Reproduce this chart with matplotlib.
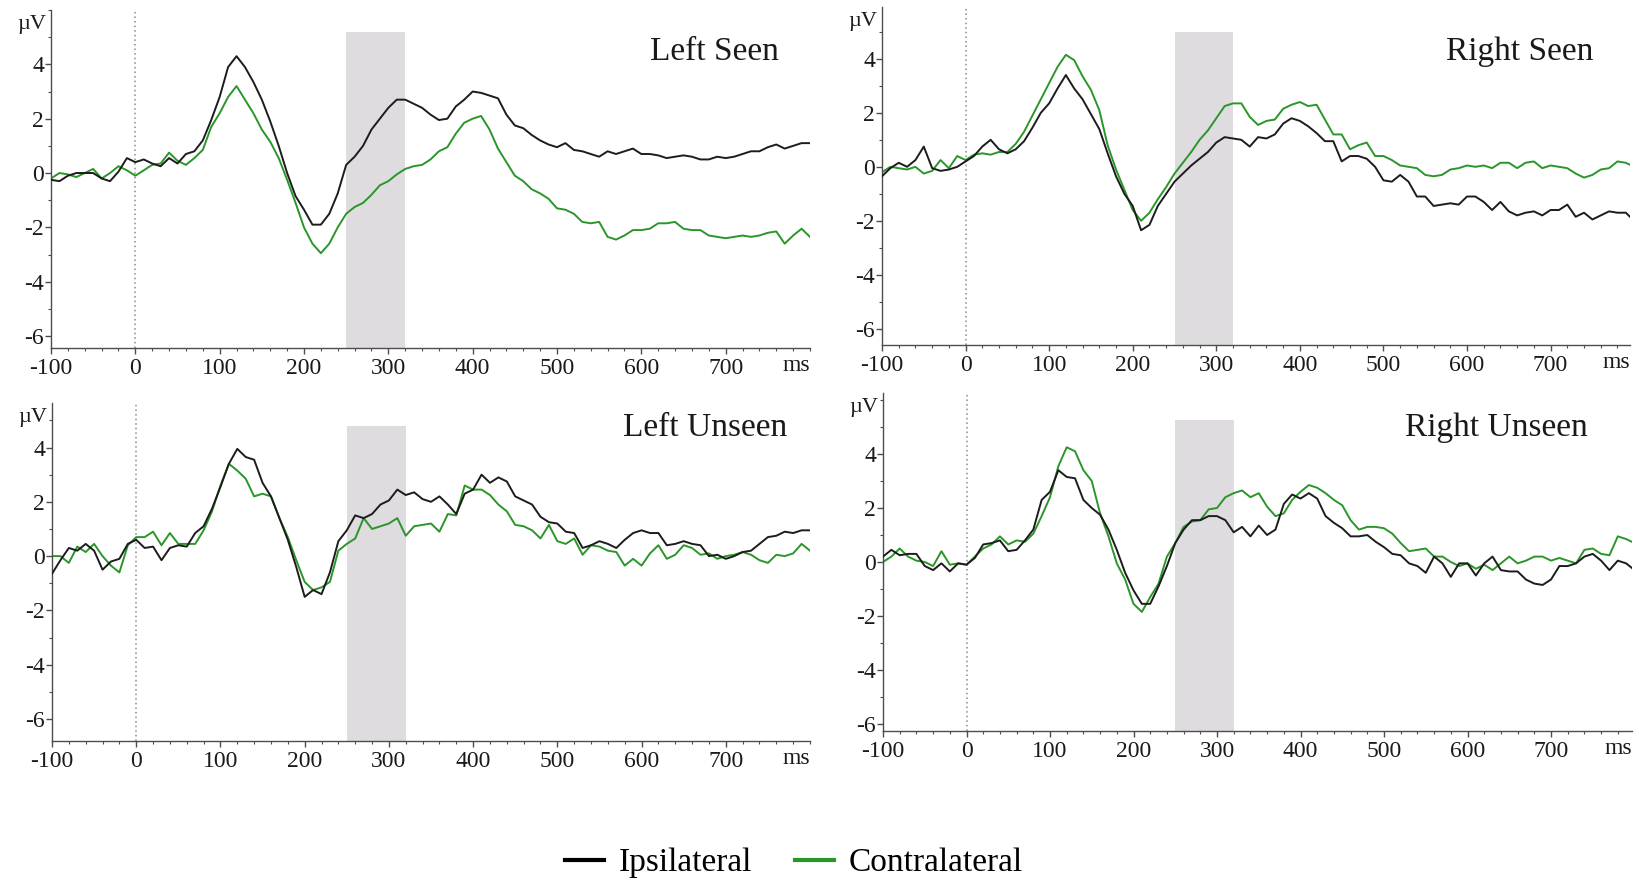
import numpy as np
import matplotlib.pyplot as plt
from matplotlib.ticker import MultipleLocator, FixedLocator

plt.rcParams['font.family'] = ['Liberation Serif', 'DejaVu Serif']
plt.rcParams['axes.unicode_minus'] = False

# time axis in ms, one sample every 10 ms
t = np.arange(-100, 801, 10)

left_seen_ipsi = [
    -0.25, -0.3, -0.1, 0.0, 0.0, 0.0, -0.2, -0.3, 0.05, 0.55,
    0.4, 0.5, 0.35, 0.25, 0.55, 0.35, 0.7, 0.8, 1.2, 1.95,
    2.8, 3.9, 4.3, 3.9, 3.35, 2.7, 1.9, 1.0, 0.0, -0.85,
    -1.35, -1.9, -1.9, -1.5, -0.75, 0.3, 0.6, 1.0, 1.6, 2.0,
    2.4, 2.7, 2.7, 2.55, 2.4, 2.15, 1.95, 2.0, 2.45, 2.7,
    3.0, 2.95, 2.85, 2.75, 2.15, 1.75, 1.65, 1.4, 1.2, 1.05,
    0.95, 1.1, 0.85, 0.8, 0.7, 0.6, 0.8, 0.7, 0.8, 0.9,
    0.7, 0.7, 0.65, 0.55, 0.6, 0.65, 0.6, 0.5, 0.5, 0.6,
    0.55, 0.6, 0.7, 0.8, 0.8, 0.95, 1.05, 0.9, 1.0, 1.1, 1.1]
left_seen_contra = [
    -0.2, 0.0, -0.05, -0.15, 0.0, 0.15, -0.2, 0.0, 0.25, 0.1,
    -0.1, 0.1, 0.3, 0.35, 0.75, 0.45, 0.3, 0.55, 0.85, 1.7,
    2.2, 2.8, 3.2, 2.7, 2.2, 1.6, 1.15, 0.55, -0.25, -1.1,
    -2.0, -2.6, -2.95, -2.6, -2.0, -1.5, -1.25, -1.1, -0.8, -0.45,
    -0.3, -0.05, 0.15, 0.25, 0.3, 0.5, 0.8, 0.95, 1.45, 1.85,
    2.0, 2.1, 1.6, 0.9, 0.4, -0.1, -0.3, -0.6, -0.75, -0.95,
    -1.3, -1.35, -1.5, -1.8, -1.85, -1.8, -2.35, -2.45, -2.3, -2.1,
    -2.1, -2.05, -1.85, -1.85, -1.8, -2.05, -2.1, -2.1, -2.3, -2.35,
    -2.4, -2.35, -2.3, -2.35, -2.3, -2.2, -2.15, -2.6, -2.3, -2.05, -2.35]

right_seen_ipsi = [
    -0.35, -0.05, 0.15, 0.0, 0.25, 0.75, -0.05, -0.15, -0.1, 0.0,
    0.2, 0.4, 0.75, 1.0, 0.65, 0.5, 0.65, 0.95, 1.45, 2.0,
    2.35, 2.9, 3.4, 2.9, 2.5, 1.95, 1.4, 0.5, -0.35, -1.0,
    -1.45, -2.35, -2.15, -1.45, -1.0, -0.55, -0.25, 0.05, 0.3, 0.55,
    0.9, 1.1, 1.05, 1.0, 0.75, 1.1, 1.05, 1.2, 1.6, 1.8,
    1.7, 1.5, 1.25, 0.95, 0.95, 0.2, 0.4, 0.4, 0.3, 0.0,
    -0.5, -0.55, -0.3, -0.55, -1.1, -1.1, -1.45, -1.4, -1.35, -1.4,
    -1.1, -1.1, -1.3, -1.6, -1.3, -1.65, -1.8, -1.7, -1.65, -1.8,
    -1.6, -1.6, -1.4, -1.85, -1.7, -1.95, -1.8, -1.65, -1.7, -1.7, -2.0]
right_seen_contra = [
    -0.2, 0.0, -0.05, -0.1, 0.0, -0.25, -0.15, 0.25, -0.05, 0.4,
    0.25, 0.45, 0.5, 0.45, 0.55, 0.55, 0.85, 1.3, 1.9, 2.5,
    3.1, 3.7, 4.15, 3.95, 3.35, 2.85, 2.1, 0.8, -0.1, -0.85,
    -1.6, -2.0, -1.7, -1.2, -0.75, -0.25, 0.15, 0.55, 1.0, 1.35,
    1.8, 2.25, 2.35, 2.35, 1.85, 1.55, 1.7, 1.75, 2.15, 2.3,
    2.4, 2.25, 2.3, 1.75, 1.2, 1.2, 0.65, 0.8, 0.9, 0.4,
    0.4, 0.25, 0.05, 0.0, -0.05, -0.3, -0.35, -0.3, -0.1, -0.05,
    0.05, 0.0, 0.05, -0.05, 0.15, 0.15, -0.05, 0.15, 0.2, -0.05,
    0.05, 0.0, -0.05, -0.25, -0.4, -0.3, -0.1, -0.05, 0.2, 0.15, 0.0]

left_unseen_ipsi = [
    -0.65, -0.15, 0.3, 0.2, 0.45, 0.2, -0.5, -0.2, -0.1, 0.45,
    0.6, 0.3, 0.35, -0.15, 0.3, 0.4, 0.35, 0.85, 1.1, 1.75,
    2.55, 3.4, 3.95, 3.65, 3.55, 2.7, 2.2, 1.4, 0.6, -0.4,
    -1.5, -1.25, -1.4, -0.6, 0.55, 0.95, 1.5, 1.4, 1.55, 1.9,
    2.05, 2.45, 2.25, 2.35, 2.1, 2.0, 2.2, 1.9, 1.55, 2.3,
    2.45, 3.0, 2.7, 2.9, 2.75, 2.2, 2.05, 1.9, 1.45, 1.25,
    1.2, 0.9, 0.85, 0.3, 0.4, 0.55, 0.45, 0.3, 0.6, 0.85,
    0.95, 0.85, 0.85, 0.4, 0.45, 0.55, 0.45, 0.4, 0.0, 0.05,
    -0.1, 0.0, 0.15, 0.2, 0.45, 0.7, 0.75, 0.9, 0.85, 0.95, 0.95]
left_unseen_contra = [
    0.0, 0.0, -0.25, 0.35, 0.15, 0.45, 0.0, -0.35, -0.6, 0.4,
    0.7, 0.7, 0.9, 0.4, 0.85, 0.45, 0.45, 0.45, 0.95, 1.65,
    2.6, 3.4, 3.15, 2.85, 2.2, 2.3, 2.2, 1.4, 0.7, -0.15,
    -0.95, -1.25, -1.15, -0.95, 0.2, 0.45, 0.65, 1.4, 1.0, 1.1,
    1.2, 1.4, 0.75, 1.1, 1.15, 1.2, 0.9, 1.55, 1.5, 2.6,
    2.45, 2.45, 2.25, 1.9, 1.65, 1.15, 1.1, 0.95, 0.65, 1.15,
    0.55, 0.45, 0.65, 0.05, 0.4, 0.35, 0.2, 0.15, -0.35, -0.1,
    -0.35, 0.1, 0.4, -0.1, 0.05, 0.4, 0.3, 0.05, 0.1, -0.1,
    0.0, 0.05, 0.15, 0.05, -0.15, -0.25, 0.05, 0.0, 0.1, 0.45, 0.2]

right_unseen_ipsi = [
    0.2, 0.45, 0.25, 0.3, 0.3, -0.15, -0.3, -0.05, -0.35, -0.05,
    -0.1, 0.15, 0.65, 0.7, 0.8, 0.4, 0.45, 0.8, 1.2, 2.3,
    2.6, 3.4, 3.15, 3.1, 2.3, 2.0, 1.75, 1.2, 0.45, -0.4,
    -1.05, -1.55, -1.55, -0.9, -0.15, 0.7, 1.2, 1.55, 1.55, 1.7,
    1.7, 1.55, 1.1, 1.3, 0.95, 1.35, 1.0, 1.2, 2.15, 2.5,
    2.35, 2.55, 2.35, 1.7, 1.45, 1.25, 0.95, 0.95, 1.0, 0.75,
    0.55, 0.3, 0.25, -0.05, -0.15, -0.4, 0.2, -0.05, -0.55, -0.05,
    -0.05, -0.5, -0.05, 0.2, -0.3, -0.35, -0.35, -0.65, -0.8, -0.85,
    -0.65, -0.15, -0.15, -0.05, 0.2, 0.3, 0.05, -0.3, 0.05, -0.05, -0.3]
right_unseen_contra = [
    0.0, 0.2, 0.5, 0.2, 0.05, 0.0, -0.15, 0.4, -0.1, -0.05,
    -0.1, 0.2, 0.5, 0.65, 0.95, 0.65, 0.8, 0.75, 1.05, 1.7,
    2.4, 3.55, 4.25, 4.1, 3.4, 3.0, 1.8, 0.95, -0.05, -0.65,
    -1.55, -1.85, -1.3, -0.8, 0.2, 0.7, 1.3, 1.5, 1.55, 1.95,
    2.0, 2.4, 2.55, 2.65, 2.4, 2.55, 2.05, 1.7, 1.8, 2.3,
    2.6, 2.85, 2.75, 2.55, 2.3, 2.1, 1.55, 1.2, 1.3, 1.3,
    1.25, 1.05, 0.7, 0.4, 0.45, 0.5, 0.2, 0.2, 0.0, -0.15,
    -0.05, -0.25, -0.1, -0.3, -0.05, 0.2, -0.05, 0.05, 0.2, 0.2,
    0.05, 0.15, 0.05, -0.05, 0.45, 0.5, 0.3, 0.25, 0.95, 0.85, 0.7]

titles = ['Left Seen', 'Right Seen', 'Left Unseen', 'Right Unseen']
ipsi = [left_seen_ipsi, right_seen_ipsi, left_unseen_ipsi, right_unseen_ipsi]
contra = [left_seen_contra, right_seen_contra, left_unseen_contra, right_unseen_contra]

# window of interest (ms)
win_start, win_end = 250, 320

W, H = 1639, 883
fig = plt.figure(figsize=(W / 100, H / 100), dpi=100)

# axes boxes in pixels: left, right, top, bottom, and per-panel limits
boxes = [(51, 810, 10, 348), (882, 1630, 7, 345),
         (52, 810, 403, 741), (883, 1632, 393, 731)]
xmaxes = [800, 795, 800, 797]
ylims = [(-6.44, 6.0), (-6.6, 5.92), (-6.81, 5.64), (-6.26, 6.26)]
win_tops = [5.2, 5.0, 4.8, 5.27]
title_pos = [(779, 52), (1593, 52), (787, 428), (1588, 428)]

black = '#1c1c1c'
green = '#2a962a'
axis_col = '#4d4d4d'

for i in range(4):
    l, r, tp, b = boxes[i]
    ax = fig.add_axes([l / W, 1 - b / H, (r - l) / W, (b - tp) / H])
    ax.set_xlim(-100, xmaxes[i])
    ax.set_ylim(*ylims[i])

    ax.fill_between([win_start, win_end], ylims[i][0], win_tops[i],
                    color='#dedcde', lw=0, zorder=0)
    ax.axvline(0, color='#8a8a8a', lw=1.1, ls=(0, (1, 2)), zorder=1)

    ax.plot(t, ipsi[i], color=black, lw=1.4, zorder=3)
    ax.plot(t, contra[i], color=green, lw=1.4, zorder=2)

    for side in ['top', 'right']:
        ax.spines[side].set_visible(False)
    for side in ['left', 'bottom']:
        ax.spines[side].set_color(axis_col)
        ax.spines[side].set_linewidth(1.0)

    ax.xaxis.set_major_locator(FixedLocator(range(-100, 701, 100)))
    ax.xaxis.set_minor_locator(MultipleLocator(20))
    ax.yaxis.set_major_locator(FixedLocator([-6, -4, -2, 0, 2, 4]))
    ax.yaxis.set_minor_locator(MultipleLocator(1))
    ax.tick_params(which='both', direction='out', color=axis_col,
                   labelsize=17, labelcolor='#1a1a1a')
    ax.tick_params(which='major', length=4, width=1.0)
    ax.tick_params(which='minor', length=2.5, width=0.8)
    ax.tick_params(axis='x', pad=3)
    ax.tick_params(axis='y', pad=1)

    ax.text(-0.006, 0.957, 'µV', transform=ax.transAxes, ha='right',
            va='center', fontsize=16, color='#1a1a1a')
    ax.text(1.0, -0.022, 'ms', transform=ax.transAxes, ha='right',
            va='top', fontsize=17, color='#1a1a1a')

    tx, ty = title_pos[i]
    fig.text(tx / W, 1 - ty / H, titles[i], ha='right', va='center',
             fontsize=24, color='#1a1a1a')

handles = [plt.Line2D([], [], color='black', lw=3),
           plt.Line2D([], [], color=green, lw=3)]
fig.legend(handles, ['Ipsilateral', 'Contralateral'], loc='center',
           bbox_to_anchor=(794 / W, 1 - 863 / H), ncol=2, frameon=False,
           fontsize=24, handlelength=1.15, handletextpad=0.45,
           columnspacing=1.3)

fig.savefig('out.png', dpi=100)
